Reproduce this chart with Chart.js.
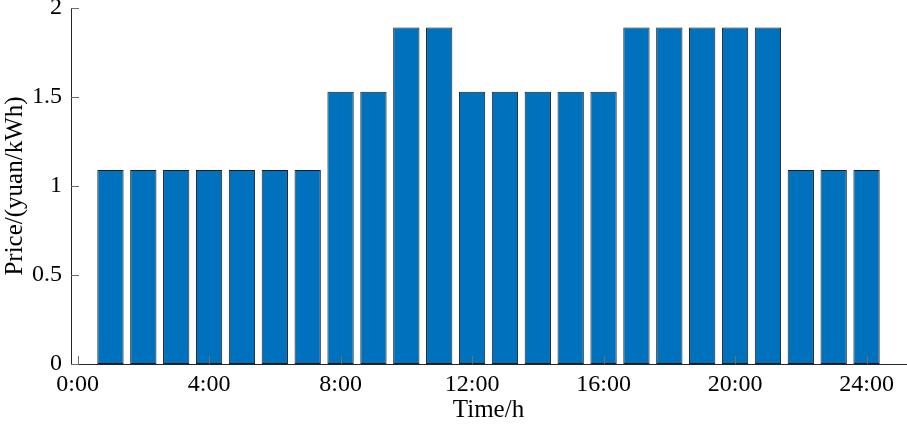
<!DOCTYPE html>
<html>
<head>
<meta charset="utf-8">
<script src="https://cdn.jsdelivr.net/npm/chart.js"></script>
<style>
  html, body { margin: 0; padding: 0; background: #fff; }
  #wrap { width: 907px; height: 425px; position: relative; }
</style>
</head>
<body>
<div id="wrap"><canvas id="grafico"></canvas></div>
<script>
// ---- datos ----
const horas = [1,2,3,4,5,6,7,8,9,10,11,12,13,14,15,16,17,18,19,20,21,22,23,24];
const precios = [1.09,1.09,1.09,1.09,1.09,1.09,1.09,1.53,1.53,1.89,1.89,1.53,1.53,1.53,1.53,1.53,1.89,1.89,1.89,1.89,1.89,1.09,1.09,1.09];
const ticksX = [0,4,8,12,16,20,24];
const ticksY = [0,0.5,1,1.5,2];

const fuente = "'Liberation Serif', 'Times New Roman', serif";
const colorEje = "#262626";

// ticks hacia dentro, estilo MATLAB
const ticksDentro = {
  id: "ticksDentro",
  afterDraw(chart) {
    const c = chart.ctx, a = chart.chartArea;
    const sx = chart.scales.x, sy = chart.scales.y;
    c.save();
    c.strokeStyle = "#6e6e6e";
    c.lineWidth = 1;
    c.beginPath();
    ticksX.forEach(v => {
      const px = Math.round(sx.getPixelForValue(v)) + 0.5;
      c.moveTo(px, a.bottom); c.lineTo(px, a.bottom - 8);
    });
    ticksY.forEach(v => {
      const py = Math.round(sy.getPixelForValue(v)) + 0.5;
      c.moveTo(a.left, py); c.lineTo(a.left + 8, py);
    });
    c.stroke();
    c.restore();
  }
};

new Chart(document.getElementById("grafico"), {
  type: "bar",
  data: {
    datasets: [{
      data: horas.map((h, i) => ({ x: h, y: precios[i] })),
      backgroundColor: "#0072BD",
      borderColor: "#1a1a1a",
      borderWidth: 1,
      borderSkipped: false,
      barPercentage: 0.8,
      categoryPercentage: 1.0
    }]
  },
  options: {
    responsive: true,
    maintainAspectRatio: false,
    animation: false,
    layout: { padding: { top: 8, right: 1, left: 0, bottom: 0 } },
    plugins: { legend: { display: false }, tooltip: { enabled: false } },
    scales: {
      x: {
        type: "linear",
        offset: false,
        min: -0.2,
        max: 25.2,
        afterBuildTicks: s => { s.ticks = ticksX.map(v => ({ value: v })); },
        afterFit: s => { s.height = 61; s.paddingLeft = 0; s.paddingRight = 0; },
        grid: { display: false, drawTicks: false },
        border: { color: colorEje, width: 1 },
        ticks: {
          color: "#000",
          font: { family: fuente, size: 24 },
          padding: 6,
          maxRotation: 0,
          callback: v => v + ":00"
        },
        title: {
          display: true,
          text: "Time/h",
          color: "#000",
          font: { family: fuente, size: 25 },
          padding: { top: 0, bottom: 0 }
        }
      },
      y: {
        min: 0,
        max: 2,
        afterBuildTicks: s => { s.ticks = ticksY.map(v => ({ value: v })); },
        afterFit: s => { s.width = 71; s.paddingTop = 0; s.paddingBottom = 0; },
        grid: { display: false, drawTicks: false },
        border: { color: colorEje, width: 1 },
        ticks: {
          color: "#000",
          font: { family: fuente, size: 24 },
          padding: 9,
          callback: v => String(v)
        },
        title: {
          display: true,
          text: "Price/(yuan/kWh)",
          color: "#000",
          font: { family: fuente, size: 25 },
          padding: { top: 0, bottom: 0 }
        }
      }
    }
  },
  plugins: [ticksDentro]
});
</script>
</body>
</html>
